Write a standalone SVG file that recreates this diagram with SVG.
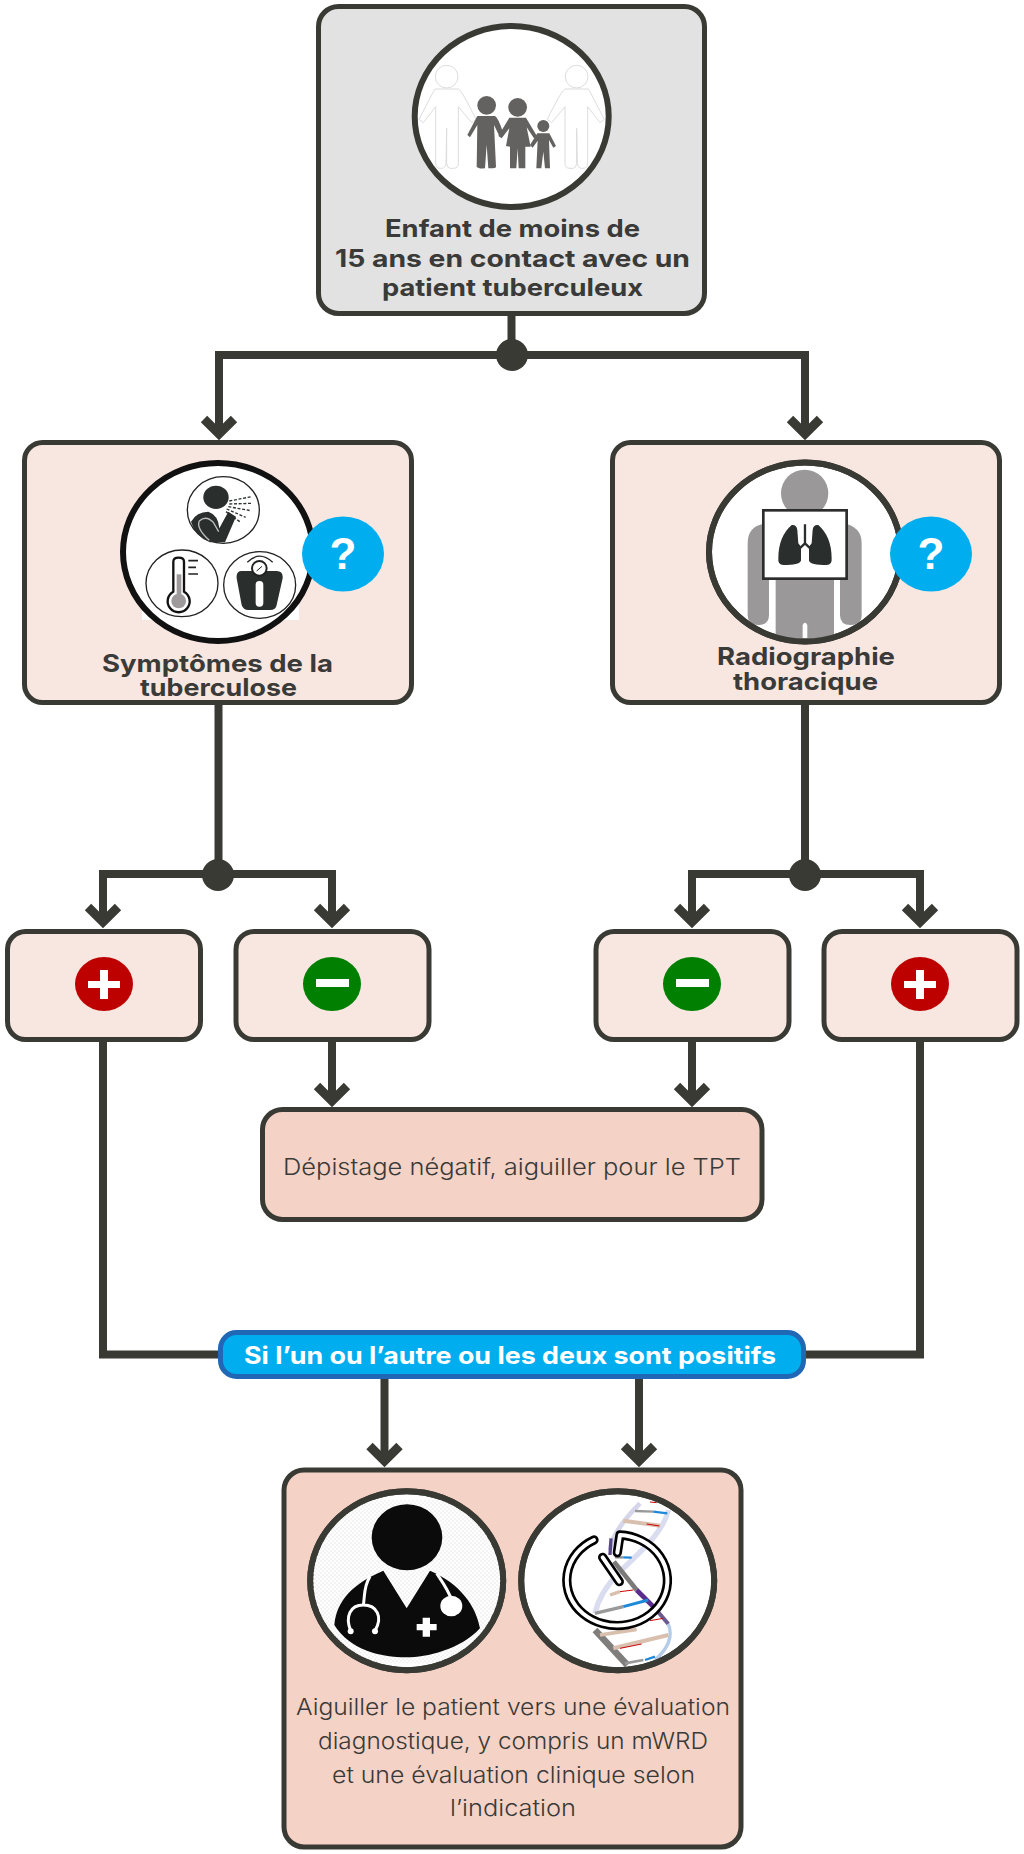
<svg xmlns="http://www.w3.org/2000/svg" width="1024" height="1854" viewBox="0 0 1024 1854">
<style>
.box{stroke:#3a3a35;stroke-width:5}
.peach{fill:#f8e7e0}
.rose{fill:#f4d2c6}
.ring{fill:#fff;stroke:#3a3a35;stroke-width:6}
.conn{fill:none;stroke:#3a3a35;stroke-width:8;stroke-miterlimit:10}
.head{fill:none;stroke:#3a3a35;stroke-width:9;stroke-miterlimit:10}
.dot{fill:#3a3a35}
.b{font-family:"Inter","Liberation Sans",sans-serif;font-weight:700;font-size:24px;fill:#3a3a38}
.r{font-family:"Inter","Liberation Sans",sans-serif;font-weight:300;font-size:23px;fill:#3a3a38}
.q{font-family:"Liberation Sans",sans-serif;font-weight:700;font-size:44px;fill:#fff;text-anchor:middle}
.blue{fill:#00aeef}
.ink{fill:#2a2e2d}
.thin{fill:#fff;stroke:#222;stroke-width:4}
.fam{fill:#636261}
.adult{fill:#fff;stroke:#dcdcdc;stroke-width:3}
</style>
<defs>
<clipPath id="c-fam"><ellipse cx="511.7" cy="116.5" rx="96" ry="90"/></clipPath>
<clipPath id="c-xray"><ellipse cx="805" cy="552" rx="95" ry="89"/></clipPath>
<clipPath id="c-doc"><ellipse cx="406.7" cy="1580.7" rx="96" ry="89"/></clipPath>
<clipPath id="c-dna"><ellipse cx="617.7" cy="1580.7" rx="96" ry="89"/></clipPath>
<pattern id="chk" width="12" height="12" patternUnits="userSpaceOnUse"><rect width="6" height="6" fill="#f4f4f4"/><rect x="6" y="6" width="6" height="6" fill="#f4f4f4"/></pattern>
<g id="chev"><path class="head" d="M-15,-15 L0,0 L15,-15"/></g>
</defs>

<g id="connectors">
<path class="conn" d="M511.5,316 V355 M219,355 H805 M219,351 V433 M805,351 V433"/>
<use href="#chev" x="219" y="434"/><use href="#chev" x="805" y="434"/>
<circle class="dot" cx="512" cy="355" r="16"/>
<path class="conn" d="M218.5,705 V875 M103,874 H332 M103,870 V921 M332,870 V921"/>
<use href="#chev" x="103" y="922"/><use href="#chev" x="332" y="922"/>
<circle class="dot" cx="218" cy="875" r="16"/>
<path class="conn" d="M805,705 V875 M692,874 H920 M692,870 V921 M920,870 V921"/>
<use href="#chev" x="692" y="922"/><use href="#chev" x="920" y="922"/>
<circle class="dot" cx="805" cy="875" r="16"/>
<path class="conn" d="M332,1042 V1100 M692,1042 V1100"/>
<use href="#chev" x="332" y="1101"/><use href="#chev" x="692" y="1101"/>
<path class="conn" d="M103,1042 V1354.5 H220 M920,1042 V1354.5 H806"/>
<path class="conn" d="M384.5,1379 V1461 M639,1379 V1461"/>
<use href="#chev" x="384.5" y="1461"/><use href="#chev" x="639" y="1461"/>
</g>

<g id="node-contact">
<rect class="box" x="318.5" y="6.5" width="386" height="307" rx="20" fill="#e2e2e2"/>
<ellipse class="ring" cx="511.7" cy="116.5" rx="97" ry="90.5"/>
<g clip-path="url(#c-fam)"><g transform="translate(420,50) scale(.3333)">
<g class="adult"><circle cx="80" cy="80" r="34"/><path d="M45,117 L115,117 Q125,120 168,208 L155,218 L115,170 L115,340 Q115,355 100,355 L90,355 Q82,355 80,340 L80,235 L78,340 Q76,355 65,355 L60,355 Q47,355 47,340 L47,170 L10,218 L-3,208 L40,125 Z"/></g>
<g class="adult" transform="translate(550,0) scale(-1,1)"><circle cx="80" cy="80" r="34"/><path d="M45,117 L115,117 Q125,120 168,208 L155,218 L115,170 L115,340 Q115,355 100,355 L90,355 Q82,355 80,340 L80,235 L78,340 Q76,355 65,355 L60,355 Q47,355 47,340 L47,170 L10,218 L-3,208 L40,125 Z"/></g>
<g class="fam">
<circle cx="200" cy="166" r="28"/><path d="M172,198 L225,198 Q235,203 250,250 L238,258 L222,225 L228,350 Q228,355 212,355 L205,355 L200,285 L195,355 Q175,357 170,350 L172,225 L150,262 L142,255 Z"/>
<circle cx="293" cy="172" r="28"/><path d="M268,203 L318,203 L352,260 L342,265 L320,232 L332,290 L316,290 L316,355 L296,355 L293,295 L289,355 L270,355 L270,290 L258,288 L268,235 L245,265 L235,258 Z"/>
<circle cx="370" cy="228" r="18"/><path d="M352,250 L388,250 L408,288 L400,293 L387,270 L390,355 L375,355 L370,305 L364,355 L349,355 L353,272 L338,293 L330,285 Z"/>
</g></g></g>
<text class="b" x="385" y="237" textLength="255" lengthAdjust="spacingAndGlyphs">Enfant de moins de</text>
<text class="b" x="335" y="267" textLength="355" lengthAdjust="spacingAndGlyphs">15 ans en contact avec un</text>
<text class="b" x="382" y="296" textLength="261" lengthAdjust="spacingAndGlyphs">patient tuberculeux</text>
</g>

<g id="node-symptoms">
<rect class="box peach" x="24.5" y="442.5" width="387" height="260" rx="18"/>
<rect x="142" y="600" width="157" height="20" fill="#fff"/>
<ellipse cx="218" cy="552" rx="95" ry="89" fill="#fff" stroke="#111" stroke-width="6"/>
<g transform="translate(130,465) scale(.3333)">
<ellipse class="thin" cx="280" cy="135" rx="108" ry="100"/>
<ellipse class="ink" cx="258" cy="97" rx="38" ry="35"/>
<path class="ink" d="M183,170 Q200,140 235,140 Q265,150 268,190 L295,140 L318,155 L285,232 L240,232 Q195,215 183,170 Z"/>
<path d="M238,226 Q198,190 208,168 Q228,150 250,172 L266,200" fill="none" stroke="#bdbdbd" stroke-width="4"/>
<path d="M298,108 L365,95 M298,117 L365,115 M295,125 L362,137 M290,132 L347,157 M288,140 L332,172" fill="none" stroke="#2a2e2d" stroke-width="4" stroke-dasharray="9 5"/>
<ellipse class="thin" cx="156" cy="355" rx="108" ry="100"/>
<path d="M130,380 L130,290 Q130,278 146,278 Q162,278 162,290 L162,380 A33,33 0 1 1 130,380 Z" fill="#fff" stroke="#111" stroke-width="7"/>
<rect x="140" y="328" width="14" height="70" fill="#9e9a9b"/><circle cx="146" cy="408" r="22" fill="#9e9a9b"/>
<path d="M175,287 H204 M175,307 H198 M175,327 H204" stroke="#222" stroke-width="5" fill="none"/>
<ellipse class="thin" cx="389" cy="360" rx="108" ry="100"/>
<path class="ink" d="M335,318 L440,318 Q460,318 458,340 L440,420 Q438,435 420,435 L355,435 Q340,435 335,420 L320,340 Q318,318 335,318 Z"/>
<circle cx="388" cy="310" r="22" fill="#fff" stroke="#222" stroke-width="6"/>
<path d="M380,318 L396,304" stroke="#222" stroke-width="3"/>
<path d="M352,292 Q388,255 428,292" fill="none" stroke="#222" stroke-width="4"/>
<rect x="377" y="348" width="23" height="77" rx="11" fill="#fff"/>
</g>
<ellipse class="blue" cx="343" cy="554" rx="41" ry="37.5"/>
<text class="q" x="343" y="569">?</text>
<text class="b" x="102" y="672" textLength="231" lengthAdjust="spacingAndGlyphs">Symptômes de la</text>
<text class="b" x="140" y="696" textLength="157" lengthAdjust="spacingAndGlyphs">tuberculose</text>
</g>

<g id="node-xray">
<rect class="box peach" x="612.5" y="442.5" width="387" height="260" rx="18"/>
<ellipse class="ring" cx="805" cy="552" rx="96" ry="89.5"/>
<g clip-path="url(#c-xray)"><g transform="translate(610,430) scale(.3333)">
<circle cx="584" cy="190" r="71" fill="#9a9899"/>
<path fill="#9a9899" d="M413,340 Q413,285 470,280 L700,280 Q755,290 755,340 L755,555 Q755,585 722,585 Q690,585 690,555 L690,400 L672,400 L672,650 L592,650 L592,585 Q585,572 578,585 L578,650 L497,650 L497,400 L477,400 L477,555 Q477,585 445,585 Q413,585 413,555 Z"/>
<rect x="460" y="241" width="250" height="205" fill="#fff" stroke="#2c2c2c" stroke-width="8"/>
<path class="ink" d="M573,350 L573,392 Q568,405 520,405 Q503,405 505,385 Q505,320 545,285 Q560,283 562,300 L565,340 Z M597,350 L597,392 Q602,405 650,405 Q667,405 665,385 Q665,320 625,285 Q610,283 608,300 L605,340 Z"/>
<path d="M585,283 V340 M566,358 L585,340 L604,358" fill="none" stroke="#2a2e2d" stroke-width="7"/>
</g></g>
<ellipse cx="805" cy="552" rx="96" ry="89.5" fill="none" stroke="#3a3a35" stroke-width="6"/>
<ellipse class="blue" cx="931" cy="554" rx="41" ry="37.5"/>
<text class="q" x="931" y="569">?</text>
<text class="b" x="717" y="665" textLength="178" lengthAdjust="spacingAndGlyphs">Radiographie</text>
<text class="b" x="733" y="690" textLength="145" lengthAdjust="spacingAndGlyphs">thoracique</text>
</g>

<g id="node-sym-pos">
<rect class="box peach" x="7.5" y="931.5" width="193" height="108" rx="18"/>
<ellipse cx="104" cy="984" rx="29" ry="27" fill="#bd0000"/>
<path d="M88,981 H120 V988 H88 Z M100,970 H108 V999 H100 Z" fill="#fff"/>
</g>
<g id="node-sym-neg">
<rect class="box peach" x="236" y="931.5" width="193" height="108" rx="18"/>
<ellipse cx="332" cy="984" rx="29" ry="27" fill="#007f00"/>
<rect x="316" y="979" width="33" height="8" fill="#fff"/>
</g>
<g id="node-xray-neg">
<rect class="box peach" x="596" y="931.5" width="193" height="108" rx="18"/>
<ellipse cx="692" cy="984" rx="29" ry="27" fill="#007f00"/>
<rect x="676" y="979" width="33" height="8" fill="#fff"/>
</g>
<g id="node-xray-pos">
<rect class="box peach" x="824" y="931.5" width="193" height="108" rx="18"/>
<ellipse cx="920" cy="984" rx="29" ry="27" fill="#bd0000"/>
<path d="M904,981 H936 V988 H904 Z M916,970 H924 V999 H916 Z" fill="#fff"/>
</g>

<g id="node-negative">
<rect class="box rose" x="262.5" y="1109.5" width="499.5" height="110" rx="20"/>
<text class="r" x="283" y="1175" textLength="458" lengthAdjust="spacingAndGlyphs">Dépistage négatif, aiguiller pour le TPT</text>
</g>

<g id="node-either">
<rect x="220.5" y="1332.5" width="583" height="44" rx="16" class="blue" stroke="#2067b5" stroke-width="5"/>
<text class="b" x="244" y="1364" style="fill:#fff" textLength="532" lengthAdjust="spacingAndGlyphs">Si l’un ou l’autre ou les deux sont positifs</text>
</g>

<g id="node-referral">
<rect class="box rose" x="284" y="1470" width="457" height="377" rx="20"/>
<ellipse class="ring" cx="406.7" cy="1580.7" rx="96.5" ry="89.5"/>
<g clip-path="url(#c-doc)"><g transform="translate(280,1460) scale(.3333)">
<rect x="80" y="120" width="600" height="490" fill="url(#chk)"/>
<ellipse cx="381" cy="232" rx="106" ry="99" fill="#0b0b0b"/>
<path fill="#0b0b0b" d="M163,495 C170,420 220,370 310,332 L380,445 L450,332 C540,370 590,440 600,505 C540,570 440,592 380,592 C300,592 210,570 163,495 Z"/>
<path d="M270,350 C250,380 255,410 250,435 M212,512 C195,470 210,435 250,435 C290,435 310,470 285,512 M470,340 C490,370 505,390 515,420" fill="none" stroke="#fff" stroke-width="9"/>
<circle cx="212" cy="514" r="9" fill="#fff"/><circle cx="285" cy="514" r="9" fill="#fff"/>
<ellipse cx="514" cy="438" rx="33" ry="31" fill="#fff"/>
<path d="M410,492 H470 V511 H410 Z M428,473 H450 V530 H428 Z" fill="#fff"/>
</g></g>
<ellipse cx="406.7" cy="1580.7" rx="96.5" ry="89.5" fill="none" stroke="#3a3a35" stroke-width="6"/>
<ellipse class="ring" cx="617.7" cy="1580.7" rx="96.5" ry="89.5"/>
<g clip-path="url(#c-dna)"><g transform="translate(540,1500) scale(.3333)" fill="none" stroke-linecap="butt">
<path d="M385,30 C370,100 290,165 240,215 C200,255 175,295 165,340" stroke="#dadcf0" stroke-width="16"/>
<path d="M300,10 C250,60 215,110 210,150" stroke="#d5d6ea" stroke-width="14"/>
<path d="M213,115 L210,165" stroke="#5b4a8a" stroke-width="10"/>
<path d="M222,185 L290,270" stroke="#7c7a78" stroke-width="14"/>
<path d="M290,270 L345,325" stroke="#5b2d8c" stroke-width="14"/>
<path d="M345,325 L385,372" stroke="#6a5a90" stroke-width="12"/>
<path d="M385,372 C400,410 385,445 345,480" stroke="#b5cce8" stroke-width="10"/>
<path d="M165,390 L262,495" stroke="#807e7c" stroke-width="20"/>
<path d="M285,33 L340,35" stroke="#999" stroke-width="7"/><path d="M340,35 L382,40" stroke="#1e88d8" stroke-width="7"/>
<path d="M330,6 L350,8" stroke="#c00" stroke-width="3"/>
<path d="M250,62 L360,77" stroke="#d8bfae" stroke-width="12"/><path d="M320,72 L358,78" stroke="#c00" stroke-width="3"/>
<path d="M225,172 L250,172" stroke="#888" stroke-width="7"/><path d="M250,172 L275,173" stroke="#1e88d8" stroke-width="7"/>
<path d="M210,285 L240,275" stroke="#d8bfae" stroke-width="10"/><path d="M240,275 L280,270" stroke="#c00" stroke-width="3"/>
<path d="M165,340 L250,320" stroke="#999" stroke-width="10"/><path d="M250,320 L325,300" stroke="#1e88d8" stroke-width="9"/>
<path d="M330,362 L370,355" stroke="#c00" stroke-width="3"/>
<path d="M180,405 L290,388" stroke="#d8bfae" stroke-width="11"/>
<path d="M220,445 L385,405" stroke="#d8bfae" stroke-width="12"/><path d="M240,445 L305,432" stroke="#c00" stroke-width="3"/>
<path d="M255,490 L310,480" stroke="#999" stroke-width="8"/><path d="M315,480 L345,470" stroke="#1e88d8" stroke-width="7"/>
<path d="M162,120 A151,136 0 1 0 240,105 L232,158 M188,172 L238,245" stroke="#000" stroke-width="28" stroke-linecap="round" stroke-linejoin="round"/>
<path d="M162,120 A151,136 0 1 0 240,105 L232,158 M188,172 L238,245" stroke="#fff" stroke-width="12" stroke-linecap="round" stroke-linejoin="round"/>
</g></g>
<ellipse cx="617.7" cy="1580.7" rx="96.5" ry="89.5" fill="none" stroke="#3a3a35" stroke-width="6"/>
<text class="r" x="296" y="1715" textLength="434" lengthAdjust="spacingAndGlyphs">Aiguiller le patient vers une évaluation</text>
<text class="r" x="318" y="1749" textLength="390" lengthAdjust="spacingAndGlyphs">diagnostique, y compris un mWRD</text>
<text class="r" x="332" y="1783" textLength="363" lengthAdjust="spacingAndGlyphs">et une évaluation clinique selon</text>
<text class="r" x="450" y="1816" textLength="126" lengthAdjust="spacingAndGlyphs">l’indication</text>
</g>
</svg>
